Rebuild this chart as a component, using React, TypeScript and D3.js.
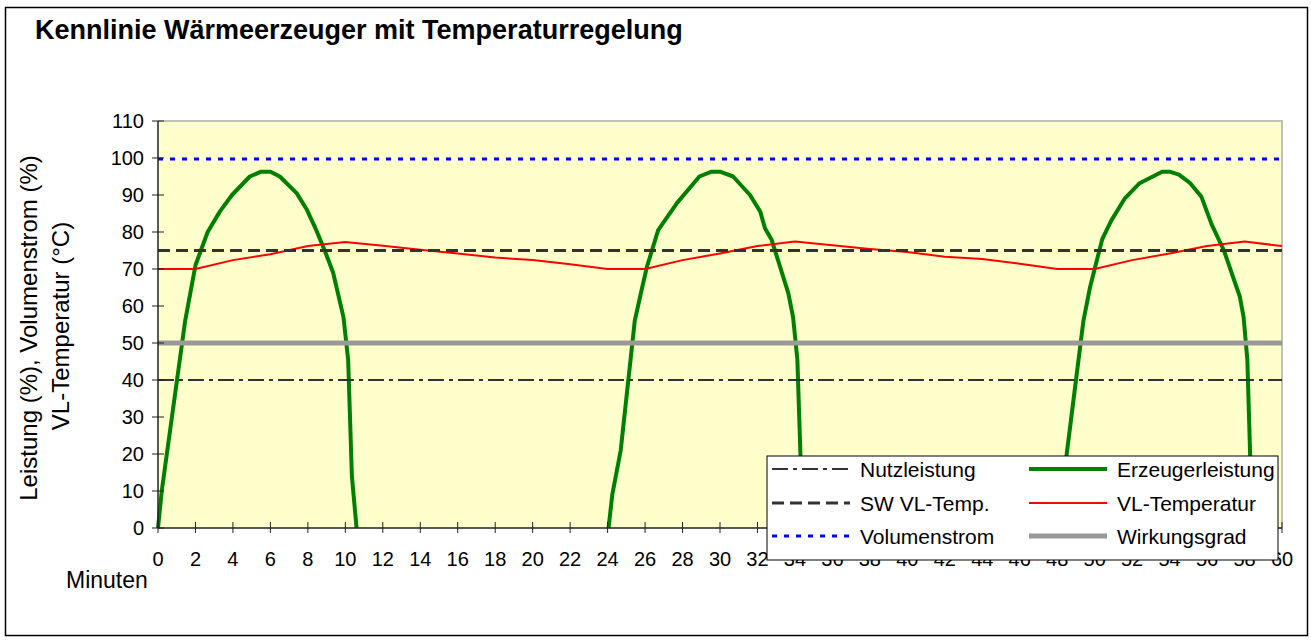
import React, { useEffect, useRef } from "react";
import * as d3 from "d3";

// Erzeugerleistung (%) – Zeit in Minuten, null = Lücke
const erzeugerZeit = [
  0, 0.2, 1.45, 2.0, 2.65, 3.3, 3.95, 4.9, 5.5, 6.0, 6.5, 7.4, 7.95, 8.45, 8.9, 9.35, 9.9, 10.15, 10.35, 10.6,
  12,
  24.05, 24.25, 24.7, 25.45, 25.8, 26.1, 26.7, 27.7, 28.9, 29.55, 30.0, 30.7, 31.6, 32.15, 32.4, 32.75, 33.65, 33.9, 34.13, 34.3, 34.5,
  36,
  48.0, 48.2, 48.5, 49.4, 49.75, 50.05, 50.4, 50.9, 51.6, 52.4, 53.6, 54.0, 54.5, 55.1, 55.7, 56.25, 56.9, 57.75, 57.95, 58.15, 58.3, 58.45,
];
const erzeugerLeistung = [
  0, 10, 56, 71, 80, 85.5, 90, 95, 96.3, 96.3, 95, 90.5, 86, 80.5, 75, 69, 57, 45.5, 14, 0,
  null,
  0, 9, 21, 56, 64, 70.6, 80.5, 87.8, 95, 96.3, 96.3, 95, 90, 85.5, 81, 78, 63.4, 57, 45.5, 19, 0,
  null,
  0, 9, 19.7, 56, 65, 71, 78, 83.2, 89, 93.2, 96.3, 96.3, 95.5, 93.2, 89.5, 82, 75, 62.5, 57, 45.5, 19.7, 0,
];

// VL-Temperatur (°C)
const vlZeit = [0, 2, 4, 6, 8, 10, 12, 14, 16, 18, 20, 22, 24, 26, 28, 30, 32, 34, 36, 38, 40, 42, 44, 46, 48, 50, 52, 54, 56, 58, 60];
const vlTemperatur = [70, 70, 72.4, 74, 76.2, 77.3, 76.3, 75.2, 74.2, 73.1, 72.4, 71.3, 70, 70, 72.4, 74.2, 76.2, 77.4, 76.4, 75.4, 74.6, 73.3, 72.7, 71.4, 70, 70, 72.4, 74.2, 76.2, 77.4, 76.2];

// konstante Kennwerte
const nutzleistung = [40, 40];
const swVlTemp = [75, 75];
const volumenstrom = [99.7, 99.7];
const wirkungsgrad = [50, 50];
const konstZeit = [0, 60];

const xTicks = d3.range(0, 61, 2);
const yTicks = d3.range(0, 111, 10);

const W = 1311;
const H = 640;
const margin = { left: 158, right: 1282, top: 121, bottom: 528 };
const font = "'Liberation Sans', Arial, sans-serif";

const legendItems = [
  { name: "Nutzleistung", color: "#333333", width: 2, dash: "16,5,4,5" },
  { name: "Erzeugerleistung", color: "#008000", width: 4, dash: null },
  { name: "SW VL-Temp.", color: "#333333", width: 3, dash: "12,6" },
  { name: "VL-Temperatur", color: "#ff0000", width: 2, dash: null },
  { name: "Volumenstrom", color: "#0000ff", width: 3, dash: "5,7" },
  { name: "Wirkungsgrad", color: "#999999", width: 5, dash: null },
];

export default function App() {
  const ref = useRef<SVGSVGElement>(null);

  useEffect(() => {
    const svg = d3.select(ref.current);
    svg.selectAll("*").remove();

    const x = d3.scaleLinear().domain([0, 60]).range([margin.left, margin.right]);
    const y = d3.scaleLinear().domain([0, 110]).range([margin.bottom, margin.top]);

    // Rahmen
    svg.append("rect").attr("x", 0).attr("y", 0).attr("width", W).attr("height", H).attr("fill", "#fff");
    svg.append("rect")
      .attr("x", 5.5).attr("y", 7.5).attr("width", 1302).attr("height", 628)
      .attr("fill", "#fff").attr("stroke", "#000").attr("stroke-width", 1.5);

    svg.append("text")
      .attr("x", 35).attr("y", 39)
      .attr("font-family", font).attr("font-weight", "bold").attr("font-size", 27)
      .text("Kennlinie Wärmeerzeuger mit Temperaturregelung");

    // Plotbereich
    svg.append("rect")
      .attr("x", x(0)).attr("y", y(110))
      .attr("width", x(60) - x(0)).attr("height", y(0) - y(110))
      .attr("fill", "#ffffcc");
    svg.append("path")
      .attr("d", `M${x(0)},${y(110)}H${x(60)}V${y(0)}`)
      .attr("fill", "none").attr("stroke", "#c0c0c0").attr("stroke-width", 2);

    const plot = svg.append("g");

    const erzeuger = erzeugerZeit.map((t, i) => ({ t, v: erzeugerLeistung[i] }));
    const lineGen = d3.line<{ t: number; v: number | null }>()
      .defined(d => d.v != null)
      .x(d => x(d.t))
      .y(d => y(d.v as number));

    plot.append("path").datum(erzeuger)
      .attr("d", lineGen).attr("fill", "none")
      .attr("stroke", "#008000").attr("stroke-width", 4).attr("stroke-linejoin", "round");

    const vl = vlZeit.map((t, i) => ({ t, v: vlTemperatur[i] }));
    plot.append("path").datum(vl)
      .attr("d", lineGen).attr("fill", "none")
      .attr("stroke", "#ff0000").attr("stroke-width", 2);

    const konst = (vals: number[], item: typeof legendItems[0]) => {
      const pts = konstZeit.map((t, i) => ({ t, v: vals[i] }));
      plot.append("path").datum(pts)
        .attr("d", lineGen).attr("fill", "none")
        .attr("stroke", item.color).attr("stroke-width", item.width)
        .attr("stroke-dasharray", item.dash);
    };
    konst(nutzleistung, legendItems[0]);
    konst(swVlTemp, legendItems[2]);
    konst(volumenstrom, legendItems[4]);
    konst(wirkungsgrad, legendItems[5]);

    // Achsen
    const axisColor = "#222";
    svg.append("line")
      .attr("x1", x(0)).attr("x2", x(60)).attr("y1", y(0)).attr("y2", y(0))
      .attr("stroke", axisColor).attr("stroke-width", 1.5);
    svg.append("line")
      .attr("x1", x(0)).attr("x2", x(0)).attr("y1", y(0)).attr("y2", y(110))
      .attr("stroke", axisColor).attr("stroke-width", 1.5);

    svg.selectAll(".xt").data(xTicks).enter().append("line")
      .attr("x1", d => x(d)).attr("x2", d => x(d))
      .attr("y1", y(0) - 6).attr("y2", y(0) + 5)
      .attr("stroke", axisColor).attr("stroke-width", 1);
    svg.selectAll(".xl").data(xTicks).enter().append("text")
      .attr("x", d => x(d)).attr("y", 566)
      .attr("text-anchor", "middle")
      .attr("font-family", font).attr("font-size", 20)
      .text(d => d);

    svg.selectAll(".yt").data(yTicks).enter().append("line")
      .attr("x1", x(0) - 6).attr("x2", x(0) + 6)
      .attr("y1", d => y(d)).attr("y2", d => y(d))
      .attr("stroke", axisColor).attr("stroke-width", 1);
    svg.selectAll(".yl").data(yTicks).enter().append("text")
      .attr("x", 144).attr("y", d => y(d) + 7)
      .attr("text-anchor", "end")
      .attr("font-family", font).attr("font-size", 20)
      .text(d => d);

    svg.append("text")
      .attr("transform", `translate(37,328) rotate(-90)`)
      .attr("text-anchor", "middle")
      .attr("font-family", font).attr("font-size", 24)
      .text("Leistung (%), Volumenstrom (%)");
    svg.append("text")
      .attr("transform", `translate(69,326) rotate(-90)`)
      .attr("text-anchor", "middle")
      .attr("font-family", font).attr("font-size", 24)
      .text("VL-Temperatur (°C)");

    svg.append("text")
      .attr("x", 66).attr("y", 588)
      .attr("font-family", font).attr("font-size", 23)
      .text("Minuten");

    // Legende
    const lg = svg.append("g");
    lg.append("rect")
      .attr("x", 767).attr("y", 456).attr("width", 511).attr("height", 104)
      .attr("fill", "#fff").attr("stroke", "#000").attr("stroke-width", 1);
    const rowY = [469, 503, 536];
    const colX = [772, 1029];
    legendItems.forEach((it, i) => {
      const cx = colX[i % 2];
      const cy = rowY[Math.floor(i / 2)];
      lg.append("line")
        .attr("x1", cx).attr("x2", cx + 78).attr("y1", cy).attr("y2", cy)
        .attr("stroke", it.color).attr("stroke-width", it.width)
        .attr("stroke-dasharray", it.dash);
      lg.append("text")
        .attr("x", cx + 88).attr("y", cy + 7.5)
        .attr("font-family", font).attr("font-size", 21)
        .text(it.name);
    });
  }, []);

  return (
    <svg ref={ref} width={W} height={H} style={{ position: "absolute", left: 0, top: 0 }} />
  );
}
